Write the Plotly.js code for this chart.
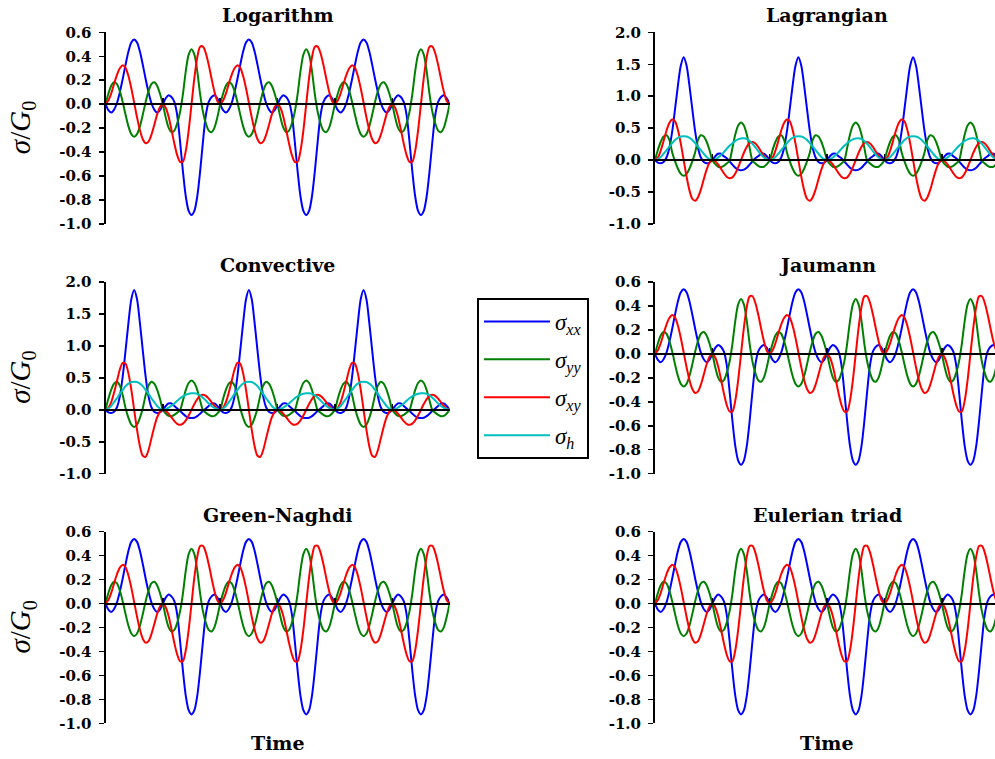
<!DOCTYPE html>
<html>
<head>
<meta charset="utf-8">
<script src="https://cdn.plot.ly/plotly-3.0.1.min.js"></script>
<style>
html, body { margin: 0; padding: 0; background: #ffffff; }
#chart { width: 995px; height: 759px; }
</style>
</head>
<body>
<div id="chart"></div>
<script>
// ---------- DATA (one period, repeated for the 3 periods shown) ----------
const phase = [0, 0.025, 0.05, 0.075, 0.1, 0.125, 0.15, 0.175, 0.2, 0.225, 0.25, 0.275, 0.3, 0.325, 0.35, 0.375, 0.4, 0.425, 0.45, 0.475, 0.5,
               0.525, 0.55, 0.575, 0.6, 0.625, 0.65, 0.675, 0.7, 0.725, 0.75, 0.775, 0.8, 0.825, 0.85, 0.875, 0.9, 0.925, 0.95, 0.975, 1];
const periodStarts = [0, 1, 2];

const panelTitles = ['Logarithm', 'Lagrangian', 'Convective', 'Jaumann', 'Green-Naghdi', 'Eulerian triad'];
const seriesKeys = ['xx', 'yy', 'xy', 'h'];
const seriesLabels = ['<i>σ</i><sub><i>xx</i></sub>', '<i>σ</i><sub><i>yy</i></sub>', '<i>σ</i><sub><i>xy</i></sub>', '<i>σ</i><sub><i>h</i></sub>'];

const smallTicks = [-1.0, -0.8, -0.6, -0.4, -0.2, 0.0, 0.2, 0.4, 0.6];
const smallTickText = ['-1.0', '-0.8', '-0.6', '-0.4', '-0.2', '0.0', '0.2', '0.4', '0.6'];
const largeTicks = [-1.0, -0.5, 0.0, 0.5, 1.0, 1.5, 2.0];
const largeTickText = ['-1.0', '-0.5', '0.0', '0.5', '1.0', '1.5', '2.0'];
const timeTicks = [0.5, 1.0, 1.5, 2.0, 2.5, 3.0];

// Logarithm (Jaumann, Green-Naghdi and Eulerian triad panels show the same curves)
const logSxx = [0, -0.05, -0.07, -0.045, 0.01, 0.10, 0.21, 0.33, 0.44, 0.515, 0.54, 0.515, 0.44, 0.33, 0.21, 0.10, 0.01, -0.045, -0.07, -0.05, 0,
                0.05, 0.075, 0.06, 0.02, -0.09, -0.31, -0.56, -0.77, -0.89, -0.925, -0.89, -0.77, -0.56, -0.31, -0.09, 0.02, 0.06, 0.075, 0.05, 0];
const logSyy = [0, 0.087, 0.154, 0.183, 0.168, 0.109, 0.019, -0.088, -0.185, -0.25, -0.272, -0.25, -0.185, -0.088, 0.019, 0.109, 0.168, 0.183, 0.154, 0.087, 0,
                -0.11, -0.196, -0.233, -0.22, -0.16, -0.065, 0.084, 0.276, 0.413, 0.458, 0.413, 0.276, 0.084, -0.065, -0.16, -0.22, -0.233, -0.196, -0.11, 0];
const logSxy = [0, 0.03, 0.09, 0.17, 0.245, 0.30, 0.325, 0.303, 0.235, 0.133, 0.012, -0.11, -0.217, -0.293, -0.326, -0.313, -0.256, -0.173, -0.087, -0.024, 0,
                -0.03, -0.104, -0.212, -0.328, -0.425, -0.481, -0.48, -0.39, -0.22, 0, 0.22, 0.39, 0.48, 0.481, 0.425, 0.328, 0.212, 0.104, 0.027, 0];

// Lagrangian
const lagSxx = [0, -0.04, -0.05, -0.03, 0.04, 0.19, 0.45, 0.80, 1.17, 1.48, 1.61, 1.48, 1.17, 0.80, 0.45, 0.19, 0.04, -0.03, -0.05, -0.04, 0,
                0.06, 0.10, 0.10, 0.06, 0.03, -0.02, -0.07, -0.12, -0.15, -0.16, -0.15, -0.12, -0.07, -0.02, 0.03, 0.06, 0.10, 0.10, 0.06, 0];
const lagSyy = [0, 0.157, 0.287, 0.369, 0.388, 0.316, 0.12, -0.02, -0.136, -0.216, -0.245, -0.216, -0.136, -0.02, 0.12, 0.316, 0.388, 0.369, 0.287, 0.157, 0,
                -0.064, -0.104, -0.108, -0.089, -0.054, -0.009, 0.191, 0.40, 0.54, 0.59, 0.54, 0.40, 0.191, -0.009, -0.054, -0.089, -0.108, -0.104, -0.064, 0];
const lagSxy = [0, 0.04, 0.15, 0.30, 0.46, 0.58, 0.635, 0.605, 0.47, 0.257, 0, -0.257, -0.47, -0.605, -0.635, -0.58, -0.46, -0.30, -0.15, -0.04, 0,
                -0.018, -0.067, -0.135, -0.205, -0.26, -0.284, -0.27, -0.21, -0.115, 0, 0.115, 0.21, 0.27, 0.284, 0.26, 0.205, 0.135, 0.067, 0.018, 0];
const lagSh  = [0, 0.017, 0.05, 0.10, 0.155, 0.21, 0.265, 0.315, 0.35, 0.37, 0.375, 0.37, 0.35, 0.315, 0.265, 0.21, 0.155, 0.10, 0.05, 0.017, 0,
                0.012, 0.04, 0.08, 0.125, 0.175, 0.225, 0.265, 0.30, 0.325, 0.338, 0.34, 0.33, 0.30, 0.255, 0.20, 0.14, 0.085, 0.04, 0.01, 0];

// Convective
const convSxx = [0, -0.04, -0.05, -0.03, 0.04, 0.21, 0.52, 0.93, 1.36, 1.73, 1.875, 1.73, 1.36, 0.93, 0.52, 0.21, 0.04, -0.03, -0.05, -0.04, 0,
                 0.06, 0.10, 0.10, 0.06, 0.02, -0.02, -0.06, -0.10, -0.125, -0.13, -0.125, -0.10, -0.06, -0.02, 0.02, 0.06, 0.10, 0.10, 0.06, 0];
const convSyy = [0, 0.172, 0.316, 0.41, 0.44, 0.379, 0.23, 0.026, -0.125, -0.231, -0.27, -0.231, -0.125, 0.026, 0.23, 0.379, 0.44, 0.41, 0.316, 0.172, 0,
                 -0.058, -0.095, -0.10, -0.08, -0.045, -0.005, 0.145, 0.31, 0.42, 0.46, 0.42, 0.31, 0.145, -0.005, -0.045, -0.08, -0.10, -0.095, -0.058, 0];
const convSxy = [0, 0.03, 0.12, 0.27, 0.45, 0.63, 0.735, 0.72, 0.57, 0.315, 0, -0.315, -0.57, -0.72, -0.735, -0.63, -0.45, -0.27, -0.12, -0.03, 0,
                 -0.016, -0.059, -0.118, -0.176, -0.219, -0.235, -0.217, -0.166, -0.09, 0, 0.09, 0.166, 0.217, 0.235, 0.219, 0.176, 0.118, 0.059, 0.016, 0];
const convSh  = [0, 0.02, 0.06, 0.12, 0.18, 0.25, 0.31, 0.37, 0.41, 0.435, 0.44, 0.435, 0.41, 0.37, 0.31, 0.25, 0.18, 0.12, 0.06, 0.02, 0,
                 0.01, 0.035, 0.065, 0.10, 0.14, 0.18, 0.21, 0.235, 0.25, 0.258, 0.26, 0.25, 0.225, 0.19, 0.145, 0.10, 0.06, 0.03, 0.008, 0];

// ---------- build ----------
function tile(values) {
  const out = [];
  periodStarts.forEach(function (p, k) {
    values.forEach(function (v, i) { if (k > 0 && i === 0) return; out.push(v); });
  });
  return out;
}
const time = [];
periodStarts.forEach(function (p, k) {
  phase.forEach(function (f, i) { if (k > 0 && i === 0) return; time.push(p + f); });
});

const colors = { xx: '#0000ff', yy: '#008000', xy: '#ff0000', h: '#00bfbf' };

const panels = [
  { title: panelTitles[0], series: { xx: logSxx, yy: logSyy, xy: logSxy }, yRange: [-1, 0.6], ticks: smallTicks, tickText: smallTickText },
  { title: panelTitles[1], series: { xx: lagSxx, yy: lagSyy, xy: lagSxy, h: lagSh }, yRange: [-1, 2], ticks: largeTicks, tickText: largeTickText },
  { title: panelTitles[2], series: { xx: convSxx, yy: convSyy, xy: convSxy, h: convSh }, yRange: [-1, 2], ticks: largeTicks, tickText: largeTickText },
  { title: panelTitles[3], series: { xx: logSxx, yy: logSyy, xy: logSxy }, yRange: [-1, 0.6], ticks: smallTicks, tickText: smallTickText },
  { title: panelTitles[4], series: { xx: logSxx, yy: logSyy, xy: logSxy }, yRange: [-1, 0.6], ticks: smallTicks, tickText: smallTickText },
  { title: panelTitles[5], series: { xx: logSxx, yy: logSyy, xy: logSxy }, yRange: [-1, 0.6], ticks: smallTicks, tickText: smallTickText }
];

const W = 995, H = 759;
const colX = [[105.5, 449.6], [655, 995]];
const colRange = [[0, 3], [0, 2.964]];
const rowTop = [32.3, 282.0, 531.7];
const rowHeight = 191.7;

const traces = [];
const seen = {};
const layout = {
  width: W, height: H,
  margin: { l: 0, r: 0, t: 0, b: 0 },
  paper_bgcolor: '#ffffff', plot_bgcolor: 'rgba(0,0,0,0)',
  showlegend: true,
  legend: {
    x: 477 / W, y: 1 - 298 / H, xanchor: 'left', yanchor: 'top',
    bordercolor: '#000000', borderwidth: 2, bgcolor: '#ffffff',
    font: { family: 'Liberation Serif', size: 23, color: '#000000' },
    tracegroupgap: 5, itemwidth: 66, entrywidth: 112, entrywidthmode: 'pixels'
  },
  annotations: []
};

panels.forEach(function (p, i) {
  const col = i % 2, row = Math.floor(i / 2);
  const sfx = i === 0 ? '' : String(i + 1);
  const xd = [colX[col][0] / W, colX[col][1] / W];
  const top = rowTop[row], bot = top + rowHeight;
  const yd = [1 - bot / H, 1 - top / H];
  const zeroPos = yd[0] + (0 - p.yRange[0]) / (p.yRange[1] - p.yRange[0]) * (yd[1] - yd[0]);

  layout['xaxis' + sfx] = {
    domain: xd, range: colRange[col], anchor: 'free', position: zeroPos,
    showline: true, linecolor: '#000000', linewidth: 2,
    ticks: 'inside', ticklen: 5, tickwidth: 1.5, tickcolor: '#000000',
    tickvals: timeTicks, showticklabels: false, showgrid: false, zeroline: false, fixedrange: true
  };
  layout['yaxis' + sfx] = {
    domain: yd, range: p.yRange, anchor: 'x' + sfx,
    showline: true, linecolor: '#000000', linewidth: 2,
    ticks: 'outside', ticklen: 5, tickwidth: 1.5, tickcolor: '#000000',
    tickvals: p.ticks, ticktext: p.tickText,
    tickfont: { family: 'DejaVu Serif', size: 15, weight: 'bold', color: '#000000' },
    ticklabelstandoff: 4,
    showgrid: false, zeroline: false, fixedrange: true
  };

  seriesKeys.forEach(function (key, j) {
    const vals = p.series[key];
    if (!vals) return;
    traces.push({
      type: 'scatter', mode: 'lines',
      x: time, y: tile(vals),
      xaxis: 'x' + sfx, yaxis: 'y' + sfx,
      name: seriesLabels[j], legendgroup: key,
      showlegend: !seen[key],
      line: { color: colors[key], width: 2, shape: 'spline', smoothing: 0.8 },
      hoverinfo: 'skip'
    });
    seen[key] = true;
  });

  // subplot title
  layout.annotations.push({
    text: p.title, xref: 'paper', yref: 'paper',
    x: (colX[col][0] + 172) / W, y: 1 - (top - 17) / H,
    xanchor: 'center', yanchor: 'middle', showarrow: false,
    font: { family: 'DejaVu Serif', size: 19, weight: 'bold', color: '#000000' }
  });
  // y title on the left column
  if (col === 0) {
    layout.annotations.push({
      text: '<i>σ</i>/<i>G</i><sub>0</sub>', xref: 'paper', yref: 'paper',
      x: 22 / W, y: 1 - (top + rowHeight / 2) / H, textangle: -90,
      xanchor: 'center', yanchor: 'middle', showarrow: false,
      font: { family: 'Liberation Serif', size: 29, color: '#000000' }
    });
  }
  // x title on the bottom row
  if (row === 2) {
    layout.annotations.push({
      text: 'Time', xref: 'paper', yref: 'paper',
      x: (colX[col][0] + 172) / W, y: 1 - 743 / H,
      xanchor: 'center', yanchor: 'middle', showarrow: false,
      font: { family: 'DejaVu Serif', size: 19, weight: 'bold', color: '#000000' }
    });
  }
});

Plotly.newPlot('chart', traces, layout, { staticPlot: true, displayModeBar: false });
</script>
</body>
</html>
